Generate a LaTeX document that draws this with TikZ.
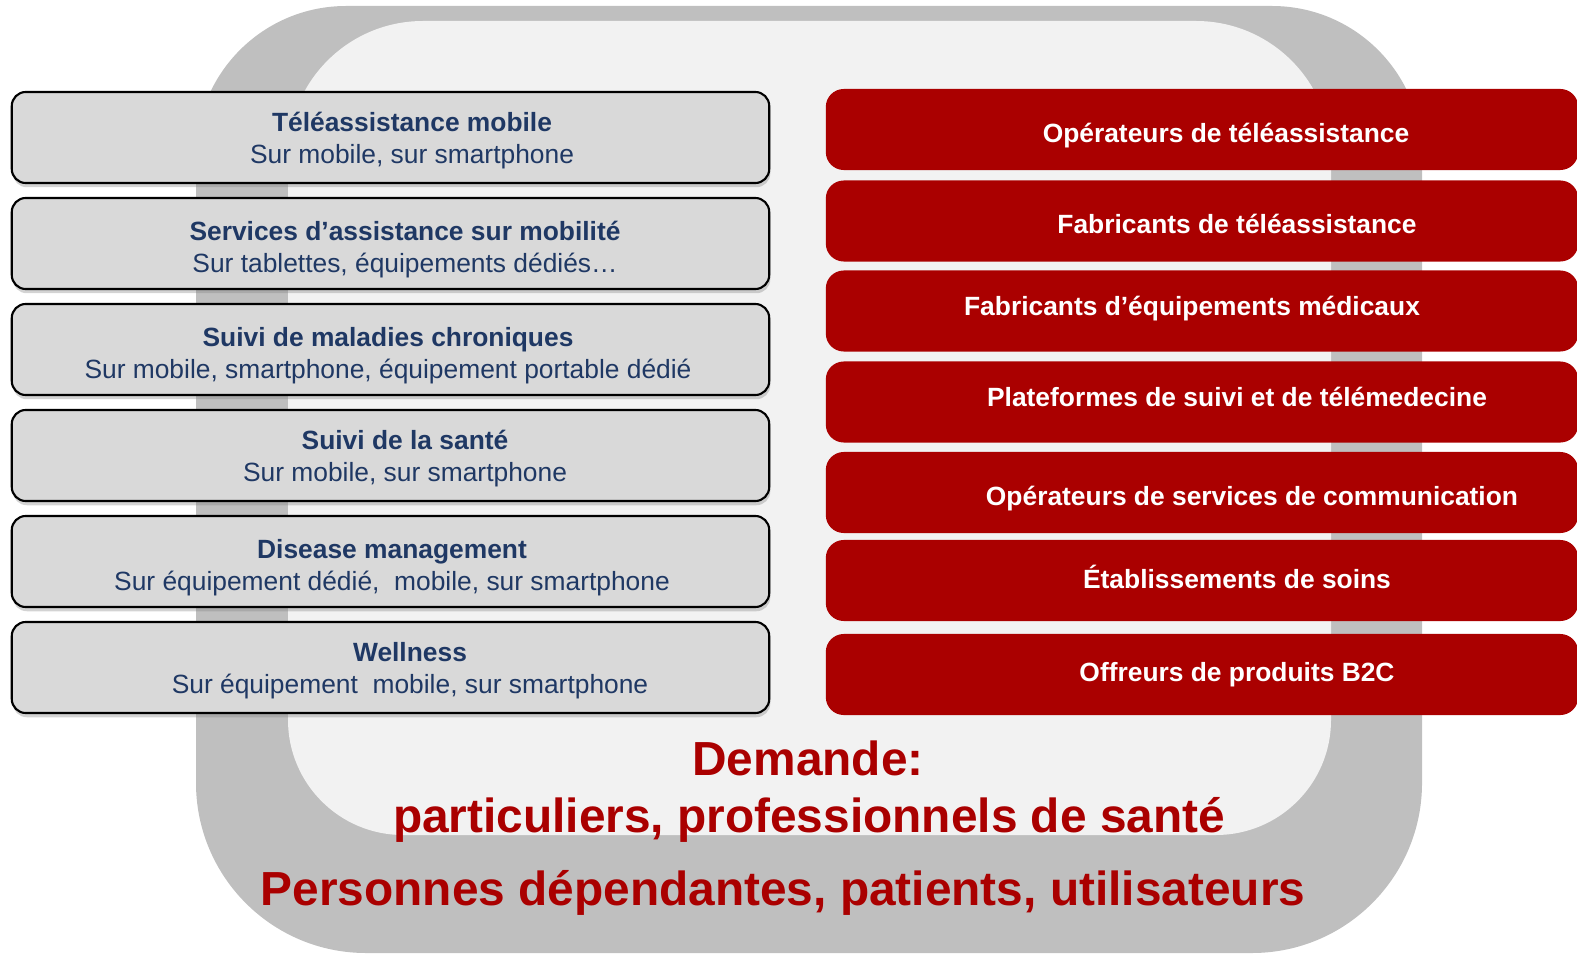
\documentclass[tikz,border=0pt]{standalone}
\usepackage{fontspec}
\setmainfont{Liberation Sans}
\usepackage{xcolor}
\usetikzlibrary{shadows}

\definecolor{ringgray}{HTML}{BFBFBF}
\definecolor{innergray}{HTML}{F2F2F2}
\definecolor{boxgray}{HTML}{D9D9D9}
\definecolor{navy}{HTML}{1F3864}
\definecolor{darkred}{HTML}{AA0000}

\begin{document}
\begin{tikzpicture}[x=0.01cm, y=-0.01cm,
	offer/.style={draw=black, line width=.6pt, fill=boxgray, rounded corners=.14cm, minimum width=7.57cm, minimum height=.91cm, inner sep=0pt, drop shadow={shadow xshift=.3pt, shadow yshift=-1.2pt, opacity=.35}},
	offertext/.style={anchor=base, align=center, text=navy, font=\fontsize{7.5pt}{9.1pt}\selectfont, inner sep=0pt},
	actor/.style={fill=darkred, rounded corners=.18cm, minimum width=7.52cm, minimum height=.81cm, inner sep=0pt},
	actortext/.style={anchor=base, text=white, font=\fontsize{7.5pt}{9pt}\selectfont\bfseries, inner sep=0pt},
	demand/.style={anchor=base, text=darkred, font=\fontsize{13.6pt}{16pt}\selectfont\bfseries, inner sep=0pt}]

	\useasboundingbox (0,0) rectangle (1577,955);
	\clip (0,0) rectangle (1577,955);

	% gray frame
	\fill[ringgray] (196,500) [rounded corners=1.5cm] -- (196,6) -- (1422,6) [rounded corners=1.7cm] -- (1422,953) -- (196,953) -- cycle;
	\fill[innergray] (288,400) [rounded corners=1.35cm] -- (288,21) -- (1331,21) [rounded corners=1.15cm] -- (1331,835) -- (288,835) -- cycle;

	% offers (left)
	\node[offer] (o1) at (390.5,137.5) {};
	\node[offer] (o2) at (390.5,243.5) {};
	\node[offer] (o3) at (390.5,349.5) {};
	\node[offer] (o4) at (390.5,455.5) {};
	\node[offer] (o5) at (390.5,561.5) {};
	\node[offer] (o6) at (390.5,667.5) {};

	\node[offertext] (ot1) at (412,164) {\textbf{Téléassistance mobile}\\Sur mobile, sur smartphone};
	\node[offertext] (ot2) at (405,273) {\textbf{Services d’assistance sur mobilité}\\Sur tablettes, équipements dédiés…};
	\node[offertext] (ot3) at (388,378) {\textbf{Suivi de maladies chroniques}\\Sur mobile, smartphone, équipement portable dédié};
	\node[offertext] (ot4) at (405,481) {\textbf{Suivi de la santé}\\Sur mobile, sur smartphone};
	\node[offertext] (ot5) at (392,590) {\textbf{Disease management}\\Sur équipement dédié,~ mobile, sur smartphone};
	\node[offertext] (ot6) at (410,693) {\textbf{Wellness}\\Sur équipement~ mobile, sur smartphone};

	% actors (right)
	\node[actor] (a1) at (1202,129.5) {};
	\node[actor] (a2) at (1202,221) {};
	\node[actor] (a3) at (1202,311) {};
	\node[actor] (a4) at (1202,402) {};
	\node[actor] (a5) at (1202,492.5) {};
	\node[actor] (a6) at (1202,580.5) {};
	\node[actor] (a7) at (1202,674.5) {};

	\node[actortext] (at1) at (1226,143) {Opérateurs de téléassistance};
	\node[actortext] (at2) at (1237,234) {Fabricants de téléassistance};
	\node[actortext] (at3) at (1192,315.5) {Fabricants d’équipements médicaux};
	\node[actortext] (at4) at (1237,406) {Plateformes de suivi et de télémedecine};
	\node[actortext] (at5) at (1252,505.5) {Opérateurs de services de communication};
	\node[actortext] (at6) at (1237,588) {Établissements de soins};
	\node[actortext] (at7) at (1237,681.5) {Offreurs de produits B2C};

	% demand
	\node[demand] (d1) at (808,775) {Demande:};
	\node[demand] (d2) at (809,832) {particuliers, professionnels de santé};
	\node[demand] (d3) at (783,905) {Personnes dépendantes, patients, utilisateurs};

\end{tikzpicture}
\end{document}
